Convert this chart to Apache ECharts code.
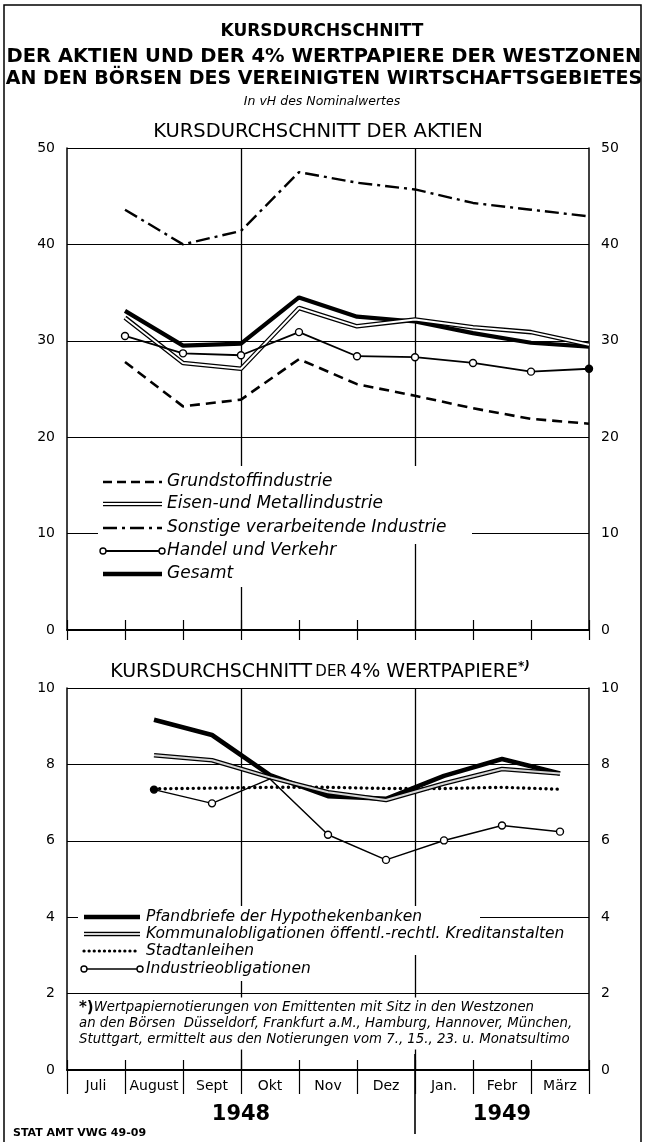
<!DOCTYPE html>
<html>
<head>
<meta charset="utf-8">
<script src="https://cdn.jsdelivr.net/npm/echarts@6/dist/echarts.min.js"></script>
<style>
html,body{margin:0;padding:0;background:#fff}
#chart{width:645px;height:1142px}
</style>
</head>
<body>
<div id="chart"></div>
<script>
// Monate (Achsenbeschriftung), Jahre
var months = ['Juli', 'August', 'Sept', 'Okt', 'Nov', 'Dez', 'Jan.', 'Febr', 'März'];
var years = ['1948', '1949'];

// Aktien: Werte am Monatsende Juli 1948 - März 1949
var aktienPos = [1, 2, 3, 4, 5, 6, 7, 8, 9];
var grundstoff = [27.8, 23.2, 23.9, 28.1, 25.5, 24.3, 23.0, 21.9, 21.4];
var eisen = [32.4, 27.7, 27.1, 33.4, 31.5, 32.2, 31.4, 30.9, 29.6];
var sonstige = [43.6, 40.0, 41.4, 47.5, 46.4, 45.7, 44.3, 43.6, 42.9];
var handel = [30.5, 28.7, 28.5, 30.9, 28.4, 28.3, 27.7, 26.8, 27.1];
var gesamt = [33.1, 29.5, 29.7, 34.5, 32.5, 32.0, 30.8, 29.8, 29.4];

// 4% Wertpapiere: Monatsmitte August 1948 - März 1949
var rentenPos = [1.5, 2.5, 3.5, 4.5, 5.5, 6.5, 7.5, 8.5];
var pfandbriefe = [9.17, 8.77, 7.72, 7.17, 7.10, 7.70, 8.14, 7.76];
var kommunal = [8.24, 8.11, 7.66, 7.27, 7.07, 7.50, 7.88, 7.76];
var stadtanleihen = [7.36, 7.38, 7.40, 7.40, 7.37, 7.37, 7.40, 7.35];
var industrieobl = [7.34, 6.98, 7.62, 6.16, 5.50, 6.01, 6.40, 6.24];

var aktienTicks = [0, 10, 20, 30, 40, 50];
var rentenTicks = [0, 2, 4, 6, 8, 10];
var yearBreaks = [3, 6];   // senkrechte Linien: Sept|Okt, Dez|Jan

var FONT = 'DejaVu Sans';
var myChart = echarts.init(document.getElementById('chart'));

function pairs(pos, vals) {
    return pos.map(function (p, i) { return [p, vals[i]]; });
}

function valueX(grid) {
    return {
        type: 'value', gridIndex: grid, min: 0, max: 9, interval: 1, position: 'bottom',
        axisLine: {show: true, onZero: false, lineStyle: {color: '#000', width: 2}},
        axisTick: {show: true, inside: true, length: 10, lineStyle: {color: '#000', width: 1.2}},
        axisLabel: {show: false}, splitLine: {show: false}
    };
}
function monthX(grid, tickLen, labels) {
    return {
        type: 'category', gridIndex: grid, data: months, boundaryGap: true, position: 'bottom', offset: 0,
        axisLine: {show: false},
        axisTick: {show: true, interval: 0, length: tickLen, lineStyle: {color: '#000', width: 1.2}},
        axisLabel: {show: labels, interval: 0, color: '#000', fontFamily: FONT, fontSize: 14, margin: 9},
        splitLine: {show: false}
    };
}
function valueY(grid, ticks, pos) {
    return {
        type: 'value', gridIndex: grid, position: pos,
        min: ticks[0], max: ticks[ticks.length - 1], interval: ticks[1] - ticks[0],
        axisLine: {show: true, lineStyle: {color: '#000', width: 1.5}},
        axisTick: {show: false},
        axisLabel: {color: '#000', fontFamily: FONT, fontSize: 14, margin: 12},
        splitLine: {show: pos === 'left', lineStyle: {color: '#000', width: 1.1}}
    };
}
function breakLines() {
    return {
        silent: true, symbol: ['none', 'none'], label: {show: false},
        lineStyle: {color: '#000', type: 'solid', width: 1.3},
        data: yearBreaks.map(function (b) { return {xAxis: b}; })
    };
}
function serie(name, xi, yi, pos, vals, lineStyle, extra) {
    var s = {
        name: name, type: 'line', xAxisIndex: xi, yAxisIndex: yi,
        data: pairs(pos, vals), showSymbol: false, symbol: 'none', silent: true,
        lineStyle: lineStyle, z: 3
    };
    for (var k in extra) s[k] = extra[k];
    return s;
}

var handelData = pairs(aktienPos, handel).map(function (d, i) {
    return i === handel.length - 1 ? {value: d, itemStyle: {color: '#000'}} : d;
});
var industrieData = pairs(rentenPos, industrieobl).map(function (d, i) {
    if (i === 0) return {value: d, itemStyle: {color: '#000'}};
    if (i === 2) return {value: d, symbol: 'none'};
    return d;
});
var circleStyle = {color: '#fff', borderColor: '#000', borderWidth: 1.4};

myChart.setOption({
    animation: false,
    grid: [
        {left: 67, right: 56, top: 148, height: 482},
        {left: 67, right: 56, top: 688, height: 382}
    ],
    xAxis: [valueX(0), monthX(0, 10, false), valueX(1), monthX(1, 24, true)],
    yAxis: [
        valueY(0, aktienTicks, 'left'), valueY(0, aktienTicks, 'right'),
        valueY(1, rentenTicks, 'left'), valueY(1, rentenTicks, 'right')
    ],
    series: [
        serie('Grundstoffindustrie', 0, 0, aktienPos, grundstoff,
            {color: '#000', width: 2.6, type: [10, 6]}, {markLine: breakLines()}),
        serie('Sonstige verarbeitende Industrie', 0, 0, aktienPos, sonstige,
            {color: '#000', width: 2.4, type: [14, 5, 3, 5]}),
        serie('Handel und Verkehr', 0, 0, aktienPos, handel,
            {color: '#000', width: 1.8},
            {data: handelData, showSymbol: true, symbol: 'circle', symbolSize: 7, itemStyle: circleStyle, z: 6}),
        serie('Gesamt', 0, 0, aktienPos, gesamt, {color: '#000', width: 4.2}, {z: 4}),
        serie('Eisen- und Metallindustrie', 0, 0, aktienPos, eisen, {color: '#000', width: 4.6}, {z: 5}),
        serie('Eisen-innen', 0, 0, aktienPos, eisen, {color: '#fff', width: 2}, {z: 5}),

        serie('Pfandbriefe der Hypothekenbanken', 2, 2, rentenPos, pfandbriefe,
            {color: '#000', width: 4.6}, {markLine: breakLines(), z: 4}),
        serie('Kommunalobligationen', 2, 2, rentenPos, kommunal, {color: '#000', width: 4.6}, {z: 5}),
        serie('Kommunal-innen', 2, 2, rentenPos, kommunal, {color: '#d6d6d6', width: 2}, {z: 5}),
        serie('Stadtanleihen', 2, 2, rentenPos, stadtanleihen,
            {color: '#000', width: 3.4, type: [0.1, 5.5], cap: 'round'}, {z: 3}),
        serie('Industrieobligationen', 2, 2, rentenPos, industrieobl,
            {color: '#000', width: 1.5},
            {data: industrieData, showSymbol: true, symbol: 'circle', symbolSize: 7, itemStyle: circleStyle, z: 6})
    ]
});

// Beschriftungen, Legenden, Fußnote
function px(xi, v) { return myChart.convertToPixel({xAxisIndex: xi}, v); }
function py(yi, v) { return myChart.convertToPixel({yAxisIndex: yi}, v); }

function txt(x, y, text, font, align, extra) {
    var st = {text: text, x: x, y: y, font: font, fill: '#000',
        align: align || 'center', verticalAlign: 'middle',
        textAlign: align || 'center', textVerticalAlign: 'middle'};
    for (var k in extra) st[k] = extra[k];
    return {type: 'text', z: 120, style: st};
}
function seg(x1, x2, y, style) {
    return {type: 'line', z: 115, shape: {x1: x1, y1: y, x2: x2, y2: y}, style: style};
}
function whiteBox(x, y, w, h) {
    return {type: 'rect', z: 110, shape: {x: x, y: y, width: w, height: h}, style: {fill: '#fff'}};
}
function circle(x, y) {
    return {type: 'circle', z: 116, shape: {cx: x, cy: y, r: 3}, style: {fill: '#fff', stroke: '#000', lineWidth: 1.4}};
}

var g = [];
g.push({type: 'rect', z: 100, shape: {x: 4, y: 5, width: 637, height: 1150},
    style: {fill: 'none', stroke: '#000', lineWidth: 1.5}});

g.push(txt(322, 32, 'KURSDURCHSCHNITT', 'bold 17px ' + FONT));
g.push(txt(324, 57, 'DER AKTIEN UND DER 4% WERTPAPIERE DER WESTZONEN', 'bold 19.5px ' + FONT));
g.push(txt(324, 79, 'AN DEN BÖRSEN DES VEREINIGTEN WIRTSCHAFTSGEBIETES', 'bold 19px ' + FONT));
g.push(txt(322, 102, 'In vH des Nominalwertes', 'italic 12.5px ' + FONT));
g.push(txt(318, 132, 'KURSDURCHSCHNITT DER AKTIEN', '19.5px ' + FONT));
g.push({type: 'text', z: 120, style: {
    x: 320, y: 672, align: 'center', verticalAlign: 'middle', textAlign: 'center', textVerticalAlign: 'middle',
    text: '{a|KURSDURCHSCHNITT} {b|DER} {a|4% WERTPAPIERE}{c|*)}',
    rich: {
        a: {font: '19px ' + FONT, fill: '#000'},
        b: {font: '15px ' + FONT, fill: '#000'},
        c: {font: 'bold italic 12px ' + FONT, fill: '#000', verticalAlign: 'top', padding: [0, 0, 10, 0]}
    }
}});

// Legende Aktien
var lx1 = 103, lx2 = 162, ltx = 167;
g.push(whiteBox(98, 466, 374, 78));
g.push(whiteBox(98, 543, 150, 44));
var topRows = [482, 504, 528, 551, 574];
g.push(seg(lx1, lx2, topRows[0], {stroke: '#000', lineWidth: 2.6, lineDash: [9, 5]}));
g.push(seg(lx1, lx2, topRows[1], {stroke: '#000', lineWidth: 4.6}));
g.push(seg(lx1, lx2, topRows[1], {stroke: '#fff', lineWidth: 2}));
g.push(seg(lx1, lx2, topRows[2], {stroke: '#000', lineWidth: 2.4, lineDash: [14, 5, 3, 5]}));
g.push(seg(lx1 + 3, lx2 - 3, topRows[3], {stroke: '#000', lineWidth: 1.8}));
g.push(circle(lx1, topRows[3]));
g.push(circle(lx2, topRows[3]));
g.push(seg(lx1, lx2, topRows[4], {stroke: '#000', lineWidth: 4.4}));
var topNames = ['Grundstoffindustrie', 'Eisen-und Metallindustrie', 'Sonstige verarbeitende Industrie',
    'Handel und Verkehr', 'Gesamt'];
topNames.forEach(function (n, i) { g.push(txt(ltx, topRows[i], n, 'italic 17px ' + FONT, 'left')); });

// Legende Wertpapiere
var bx1 = 84, bx2 = 140, btx = 146;
g.push(whiteBox(78, 906, 402, 49));
g.push(whiteBox(78, 954, 230, 27));
var botRows = [917, 934, 951, 969];
g.push(seg(bx1, bx2, botRows[0], {stroke: '#000', lineWidth: 4.6}));
g.push(seg(bx1, bx2, botRows[1], {stroke: '#000', lineWidth: 4.4}));
g.push(seg(bx1, bx2, botRows[1], {stroke: '#d6d6d6', lineWidth: 2}));
g.push(seg(bx1, bx2, botRows[2], {stroke: '#000', lineWidth: 3.2, lineDash: [0.1, 5], lineCap: 'round'}));
g.push(seg(bx1 + 3, bx2 - 3, botRows[3], {stroke: '#000', lineWidth: 1.6}));
g.push(circle(bx1, botRows[3]));
g.push(circle(bx2, botRows[3]));
var botNames = ['Pfandbriefe der Hypothekenbanken', 'Kommunalobligationen öffentl.-rechtl. Kreditanstalten',
    'Stadtanleihen', 'Industrieobligationen'];
botNames.forEach(function (n, i) { g.push(txt(btx, botRows[i], n, 'italic 15.5px ' + FONT, 'left')); });

// Fußnote
var gl = px(2, 0), gr = px(2, 9);
g.push(whiteBox(gl + 2, py(2, 2) + 4, gr - gl - 4, 52));
var foot = [
    '{s|*)}{n|Wertpapiernotierungen von Emittenten mit Sitz in den Westzonen}',
    '{n|an den Börsen  Düsseldorf, Frankfurt a.M., Hamburg, Hannover, München,}',
    '{n|Stuttgart, ermittelt aus den Notierungen vom 7., 15., 23. u. Monatsultimo}'
];
foot.forEach(function (t, i) {
    g.push({type: 'text', z: 120, style: {
        x: 79, y: 1008 + i * 16, align: 'left', verticalAlign: 'middle', textAlign: 'left', textVerticalAlign: 'middle',
        text: t,
        rich: {
            s: {font: 'bold 15px ' + FONT, fill: '#000'},
            n: {font: 'italic 13.3px ' + FONT, fill: '#000'}
        }
    }});
});

// Jahre und Trennlinie
var xJan = px(2, 6), y0 = py(2, 0);
g.push({type: 'line', z: 115, shape: {x1: xJan, y1: y0 - 16, x2: xJan, y2: y0 + 64},
    style: {stroke: '#000', lineWidth: 1.6}});
g.push(txt(px(2, 3), 1115, years[0], 'bold 21px ' + FONT));
g.push(txt(px(2, 7.5), 1115, years[1], 'bold 21px ' + FONT));
g.push(txt(13, 1133, 'STAT AMT VWG 49-09', 'bold 11px ' + FONT, 'left'));

myChart.setOption({graphic: {elements: g}});
</script>
</body>
</html>
